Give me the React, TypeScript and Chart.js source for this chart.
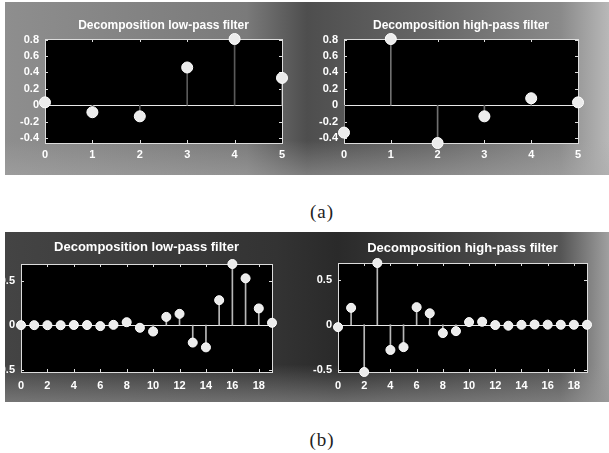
import { useEffect, useRef } from "react";
import { Chart, registerables } from "chart.js";

Chart.register(...registerables);

// ---- data ----
const indicesA = [0, 1, 2, 3, 4, 5];
const lowPassA = [0.035, -0.085, -0.135, 0.46, 0.807, 0.333];
const highPassA = [-0.333, 0.807, -0.46, -0.135, 0.085, 0.035];

const indicesB = [0, 1, 2, 3, 4, 5, 6, 7, 8, 9, 10, 11, 12, 13, 14, 15, 16, 17, 18, 19];
const lowPassB = [
  -0.0001, 0.0001, -0.0001, -0.0007, 0.002, 0.0014, -0.0107, 0.0036, 0.0332, -0.0295,
  -0.0714, 0.0931, 0.1274, -0.1959, -0.2498, 0.2812, 0.6885, 0.5272, 0.1882, 0.0267,
];
const highPassB = [
  -0.0267, 0.1882, -0.5272, 0.6885, -0.2812, -0.2498, 0.1959, 0.1274, -0.0931, -0.0714,
  0.0295, 0.0332, -0.0036, -0.0107, -0.0014, 0.002, 0.0007, -0.0001, -0.0001, -0.0001,
];

const xTicksA = [0, 1, 2, 3, 4, 5];
const yTicksA = [-0.4, -0.2, 0, 0.2, 0.4, 0.6, 0.8];
const xTicksB = [0, 2, 4, 6, 8, 10, 12, 14, 16, 18];
const yTicksB = [-0.5, 0, 0.5];

const titleLow = "Decomposition low-pass filter";
const titleHigh = "Decomposition high-pass filter";
const captionA = "(a)";
const captionB = "(b)";

type PanelProps = {
  left: number;
  top: number;
  width: number;
  height: number;
  indices: number[];
  values: number[];
  xTicks: number[];
  yTicks: number[];
  xMax: number;
  yMin: number;
  yMax: number;
  title: string;
  titleSize: number;
  titleTop: number;
  titleGap: number;
  yAxisWidth: number;
  padRight: number;
  xAxisHeight: number;
  padBottom: number;
  xLabelPad: number;
  pointRadius: number;
  stemColor: string;
};

const framePlugin = {
  id: "matlabFrame",
  beforeDatasetsDraw(chart: any) {
    const { ctx, chartArea: a, scales } = chart;
    const xs = scales.x;
    const ys = scales.y;
    ctx.save();
    ctx.fillStyle = "#000";
    ctx.fillRect(a.left, a.top, a.right - a.left, a.bottom - a.top);
    // zero baseline
    const y0 = Math.round(ys.getPixelForValue(0)) + 0.5;
    ctx.strokeStyle = "#e8e8e8";
    ctx.lineWidth = 1;
    ctx.beginPath();
    ctx.moveTo(a.left, y0);
    ctx.lineTo(a.right, y0);
    ctx.stroke();
    // box
    ctx.strokeStyle = "#dcdcdc";
    ctx.strokeRect(Math.round(a.left) + 0.5, Math.round(a.top) + 0.5, Math.round(a.right - a.left), Math.round(a.bottom - a.top));
    // inward ticks
    const tl = 3;
    ctx.beginPath();
    xs.ticks.forEach((t: any) => {
      const px = Math.round(xs.getPixelForValue(t.value)) + 0.5;
      ctx.moveTo(px, a.bottom);
      ctx.lineTo(px, a.bottom - tl);
      ctx.moveTo(px, a.top);
      ctx.lineTo(px, a.top + tl);
    });
    ys.ticks.forEach((t: any) => {
      const py = Math.round(ys.getPixelForValue(t.value)) + 0.5;
      ctx.moveTo(a.left, py);
      ctx.lineTo(a.left + tl, py);
      ctx.moveTo(a.right, py);
      ctx.lineTo(a.right - tl, py);
    });
    ctx.stroke();
    ctx.restore();
  },
};

function StemPanel(p: PanelProps) {
  const ref = useRef<HTMLCanvasElement>(null);
  useEffect(() => {
    if (!ref.current) return;
    const pts = p.indices.map((x, i) => ({ x, y: p.values[i] }));
    const tickFont = { family: "'Liberation Sans', Arial, sans-serif", size: 11, weight: "bold" as const };
    const chart = new Chart(ref.current, {
      type: "bar",
      data: {
        datasets: [
          {
            type: "scatter",
            data: pts,
            pointRadius: p.pointRadius,
            pointBackgroundColor: "#ececec",
            pointBorderColor: "#ffffff",
            pointBorderWidth: 1,
            showLine: false,
            clip: false,
            order: 1,
          } as any,
          {
            type: "bar",
            data: pts,
            backgroundColor: p.stemColor,
            borderWidth: 0,
            barThickness: 1,
            grouped: false,
            order: 2,
          } as any,
        ],
      },
      options: {
        animation: false,
        responsive: false,
        devicePixelRatio: 1,
        events: [],
        layout: {
          padding: { left: 0, right: p.padRight, top: p.titleTop, bottom: p.padBottom },
        },
        plugins: {
          legend: { display: false },
          tooltip: { enabled: false },
          title: {
            display: true,
            text: p.title,
            color: "#ffffff",
            fullSize: false,
            font: { family: "'Liberation Sans', Arial, sans-serif", size: p.titleSize, weight: "bold" },
            padding: { top: 0, bottom: p.titleGap },
          },
        },
        scales: {
          x: {
            type: "linear",
            min: 0,
            max: p.xMax,
            offset: false,
            grid: { display: false, drawTicks: false },
            border: { display: false },
            ticks: {
              color: "#ffffff",
              font: tickFont,
              padding: p.xLabelPad,
              autoSkip: false,
              maxRotation: 0,
              callback: (v: any) => String(v),
            },
            afterBuildTicks: (s: any) => {
              s.ticks = p.xTicks.map((v) => ({ value: v }));
            },
            afterFit: (s: any) => {
              s.height = p.xAxisHeight;
            },
          },
          y: {
            type: "linear",
            min: p.yMin,
            max: p.yMax,
            grid: { display: false, drawTicks: false },
            border: { display: false },
            ticks: {
              color: "#ffffff",
              font: tickFont,
              padding: 6,
              callback: (v: any) => String(v),
            },
            afterBuildTicks: (s: any) => {
              s.ticks = p.yTicks.map((v) => ({ value: v }));
            },
            afterFit: (s: any) => {
              s.width = p.yAxisWidth;
            },
          },
        },
      } as any,
      plugins: [framePlugin],
    });
    return () => chart.destroy();
  }, []);
  return (
    <canvas
      ref={ref}
      width={p.width}
      height={p.height}
      style={{ position: "absolute", left: p.left, top: p.top, width: p.width, height: p.height }}
    />
  );
}

export default function App() {
  return (
    <div style={{ position: "absolute", left: 0, top: 0, width: 609, height: 453, background: "#fff", overflow: "hidden" }}>
      <div
        style={{
          position: "absolute",
          left: 5,
          top: 2,
          width: 604,
          height: 173,
          background:
            "linear-gradient(180deg, rgba(0,0,0,0) 0%, rgba(0,0,0,0) 80%, rgba(170,170,170,0.5) 100%), linear-gradient(90deg, #8e8e8e 0%, #7a7a7a 40%, #4e4e4e 50%, #666 70%, #8a8a8a 92%, #b8b8b8 100%)",
        }}
      />
      <div
        style={{
          position: "absolute",
          left: 5,
          top: 232,
          width: 604,
          height: 170,
          background:
            "linear-gradient(180deg, rgba(0,0,0,0) 0%, rgba(0,0,0,0) 78%, rgba(150,150,150,0.6) 100%), linear-gradient(90deg, #444 0%, #333 45%, #2a2a2a 55%, #555 92%, #a0a0a0 100%)",
        }}
      />
      <StemPanel
        left={5} top={2} width={298} height={173}
        indices={indicesA} values={lowPassA} xTicks={xTicksA} yTicks={yTicksA}
        xMax={5} yMin={-0.46} yMax={0.807} title={titleLow} titleSize={12}
        titleTop={16} titleGap={6.6} yAxisWidth={40} padRight={21}
        xAxisHeight={20} padBottom={12} xLabelPad={5} pointRadius={5.5} stemColor="#5a5a5a"
      />
      <StemPanel
        left={303} top={2} width={306} height={173}
        indices={indicesA} values={highPassA} xTicks={xTicksA} yTicks={yTicksA}
        xMax={5} yMin={-0.46} yMax={0.807} title={titleHigh} titleSize={12}
        titleTop={16} titleGap={6.6} yAxisWidth={41} padRight={31}
        xAxisHeight={20} padBottom={12} xLabelPad={5} pointRadius={5.5} stemColor="#707070"
      />
      <StemPanel
        left={5} top={232} width={300} height={170}
        indices={indicesB} values={lowPassB} xTicks={xTicksB} yTicks={yTicksB}
        xMax={19} yMin={-0.5272} yMax={0.6885} title={titleLow} titleSize={13}
        titleTop={7.7} titleGap={8.7} yAxisWidth={16} padRight={33}
        xAxisHeight={20} padBottom={10} xLabelPad={7.5} pointRadius={4.5} stemColor="#b8b8b8"
      />
      <StemPanel
        left={305} top={232} width={304} height={170}
        indices={indicesB} values={highPassB} xTicks={xTicksB} yTicks={yTicksB}
        xMax={19} yMin={-0.5272} yMax={0.6885} title={titleHigh} titleSize={13}
        titleTop={8.2} titleGap={7.2} yAxisWidth={33} padRight={22}
        xAxisHeight={20} padBottom={10} xLabelPad={7.5} pointRadius={4.5} stemColor="#b8b8b8"
      />
      <div style={{ position: "absolute", left: 272, top: 201, width: 100, textAlign: "center", fontFamily: "'Liberation Serif', serif", fontSize: 19, lineHeight: "22px", letterSpacing: 1, color: "#222" }}>
        {captionA}
      </div>
      <div style={{ position: "absolute", left: 272, top: 429, width: 100, textAlign: "center", fontFamily: "'Liberation Serif', serif", fontSize: 19, lineHeight: "22px", letterSpacing: 1, color: "#222" }}>
        {captionB}
      </div>
    </div>
  );
}
